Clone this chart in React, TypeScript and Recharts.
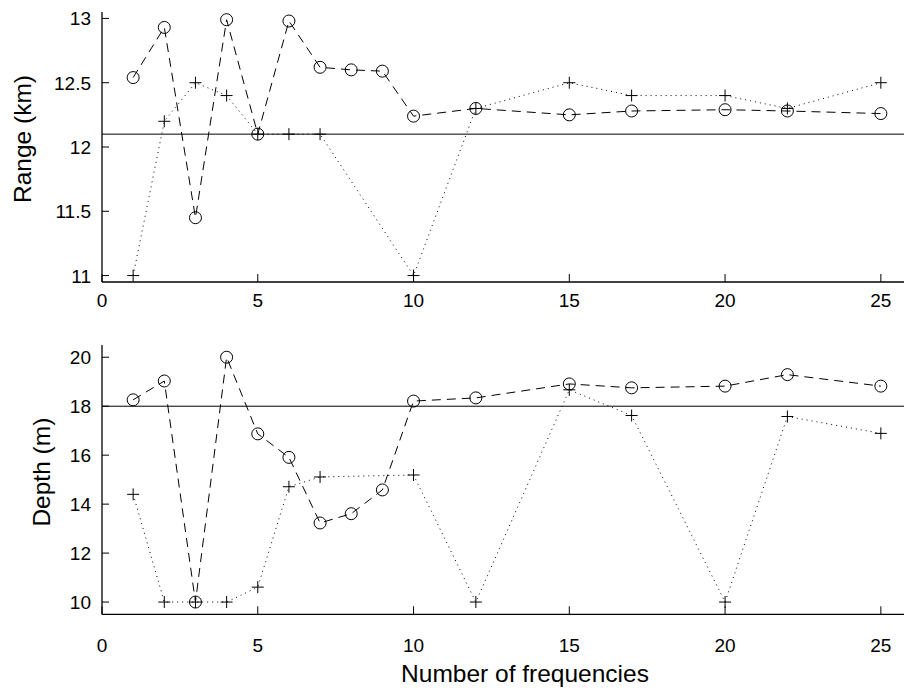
import { LineChart, Line, XAxis, YAxis, ReferenceLine } from 'recharts';

// frequency counts used in the run (the + series skips 8 and 9)
const freqAll = [1, 2, 3, 4, 5, 6, 7, 8, 9, 10, 12, 15, 17, 20, 22, 25];
const freqSub = [1, 2, 3, 4, 5, 6, 7, 10, 12, 15, 17, 20, 22, 25];

const rangeCircle = [12.54, 12.93, 11.45, 12.99, 12.1, 12.98, 12.62, 12.6, 12.59, 12.24, 12.3, 12.25, 12.28, 12.29, 12.28, 12.26];
const rangePlus = [11.0, 12.2, 12.5, 12.4, 12.1, 12.1, 12.1, 11.0, 12.3, 12.5, 12.4, 12.4, 12.3, 12.5];

const depthCircle = [18.26, 19.03, 10.0, 20.0, 16.87, 15.91, 13.23, 13.61, 14.58, 18.21, 18.34, 18.91, 18.75, 18.82, 19.29, 18.82];
const depthPlus = [14.4, 10.0, 10.0, 10.0, 10.61, 14.71, 15.11, 15.19, 10.0, 18.67, 17.62, 10.0, 17.58, 16.89];

const trueRange = 12.1;
const trueDepth = 18;

const freqTicks = [0, 5, 10, 15, 20, 25];
const rangeTicks = [11, 11.5, 12, 12.5, 13];
const depthTicks = [10, 12, 14, 16, 18, 20];

const toRows = (xs: number[], vs: number[]) => xs.map((f, i) => ({ f, v: vs[i] }));

const FONT = '"Liberation Sans", Arial, Helvetica, sans-serif';
const TICK_FS = 19;
const LABEL_FS = 24.5;

function BottomTick(props: any) {
  const { x, y, payload, labelDy } = props;
  return (
    <g>
      <line x1={x} y1={y} x2={x} y2={y - 8} stroke="#000" strokeWidth={1} />
      <text x={x} y={y + labelDy} textAnchor="middle" fontSize={TICK_FS} fontFamily={FONT} fill="#000">
        {payload.value}
      </text>
    </g>
  );
}

function TopTick(props: any) {
  const { x, y } = props;
  return <line x1={x} y1={y} x2={x} y2={y + 8} stroke="#000" strokeWidth={1} />;
}

function LeftTick(props: any) {
  const { x, y, payload } = props;
  return (
    <g>
      <line x1={x} y1={y} x2={x + 7} y2={y} stroke="#000" strokeWidth={1} />
      <text x={x - 11} y={y + 7} textAnchor="end" fontSize={TICK_FS} fontFamily={FONT} fill="#000">
        {payload.value}
      </text>
    </g>
  );
}

function PlusDot(props: any) {
  const { cx, cy } = props;
  if (cx == null || cy == null) return null;
  const s = 6;
  return (
    <path d={`M${cx - s},${cy}H${cx + s}M${cx},${cy - s}V${cy + s}`} stroke="#000" strokeWidth={1} fill="none" />
  );
}

function yLabel(text: string, baseX: number, shiftY: number) {
  return (p: any) => {
    const vb = p.viewBox;
    const cy = vb.y + vb.height / 2 + shiftY;
    return (
      <text
        x={baseX}
        y={cy}
        transform={`rotate(-90, ${baseX}, ${cy})`}
        textAnchor="middle"
        fontSize={LABEL_FS}
        fontFamily={FONT}
        fill="#000"
      >
        {text}
      </text>
    );
  };
}

function xLabel(text: string) {
  return (p: any) => {
    const vb = p.viewBox;
    return (
      <text
        x={vb.x + vb.width / 2 + 18}
        y={vb.y + 67.5}
        textAnchor="middle"
        fontSize={LABEL_FS}
        fontFamily={FONT}
        fill="#000"
      >
        {text}
      </text>
    );
  };
}

type PanelProps = {
  top: number;
  height: number;
  xHeight: number;
  yDomain: [number, number];
  yTicks: number[];
  truth: number;
  circle: number[];
  plus: number[];
  labelDy: number;
  yName: string;
  yNameX: number;
  yNameShift: number;
  showXName?: boolean;
};

function Panel(p: PanelProps) {
  return (
    <div style={{ position: 'absolute', left: 0, top: p.top }}>
      <LineChart width={912} height={p.height} margin={{ top: 12, right: 0, bottom: 0, left: 0 }}>
        <XAxis
          xAxisId="b"
          dataKey="f"
          type="number"
          domain={[0, 26]}
          ticks={freqTicks}
          interval={0}
          allowDataOverflow
          height={p.xHeight}
          tickSize={0}
          tickMargin={0}
          tickLine={false}
          axisLine={{ stroke: '#000', strokeWidth: 1.3 }}
          tick={<BottomTick labelDy={p.labelDy} />}
          label={p.showXName ? { content: xLabel('Number of frequencies') } : undefined}
        />
        <XAxis
          xAxisId="t"
          orientation="top"
          dataKey="f"
          type="number"
          domain={[0, 26]}
          ticks={freqTicks}
          interval={0}
          allowDataOverflow
          height={0}
          tickSize={0}
          tickMargin={0}
          tickLine={false}
          axisLine={{ stroke: '#000', strokeWidth: 1.3 }}
          tick={<TopTick />}
        />
        <YAxis
          type="number"
          domain={p.yDomain}
          ticks={p.yTicks}
          interval={0}
          allowDataOverflow
          width={102}
          tickSize={0}
          tickMargin={0}
          tickLine={false}
          axisLine={{ stroke: '#000', strokeWidth: 1.3 }}
          tick={<LeftTick />}
          label={{ content: yLabel(p.yName, p.yNameX, p.yNameShift) }}
        />
        <ReferenceLine xAxisId="b" y={p.truth} stroke="#000" strokeWidth={1} />
        <Line
          xAxisId="b"
          data={toRows(freqSub, p.plus)}
          dataKey="v"
          stroke="#000"
          strokeWidth={1}
          strokeDasharray="1 4"
          dot={(d: any) => <PlusDot key={d.index} {...d} />}
          activeDot={false}
          isAnimationActive={false}
        />
        <Line
          xAxisId="b"
          data={toRows(freqAll, p.circle)}
          dataKey="v"
          stroke="#000"
          strokeWidth={1}
          strokeDasharray="9 6"
          dot={{ r: 6, fill: 'none', stroke: '#000', strokeWidth: 1, strokeDasharray: '' }}
          activeDot={false}
          isAnimationActive={false}
        />
      </LineChart>
    </div>
  );
}

export default function App() {
  return (
    <div
      style={{
        position: 'absolute',
        left: 0,
        top: 0,
        width: 904,
        height: 693,
        overflow: 'hidden',
        background: '#fff',
      }}
    >
      <Panel
        top={0}
        height={312}
        xHeight={30}
        yDomain={[10.95, 13.05]}
        yTicks={rangeTicks}
        truth={trueRange}
        circle={rangeCircle}
        plus={rangePlus}
        labelDy={25}
        yName="Range (km)"
        yNameX={31}
        yNameShift={-8}
      />
      <Panel
        top={333}
        height={360}
        xHeight={78.7}
        yDomain={[9.5, 20.5]}
        yTicks={depthTicks}
        truth={trueDepth}
        circle={depthCircle}
        plus={depthPlus}
        labelDy={37.5}
        yName="Depth (m)"
        yNameX={50}
        yNameShift={-7.5}
        showXName
      />
    </div>
  );
}
